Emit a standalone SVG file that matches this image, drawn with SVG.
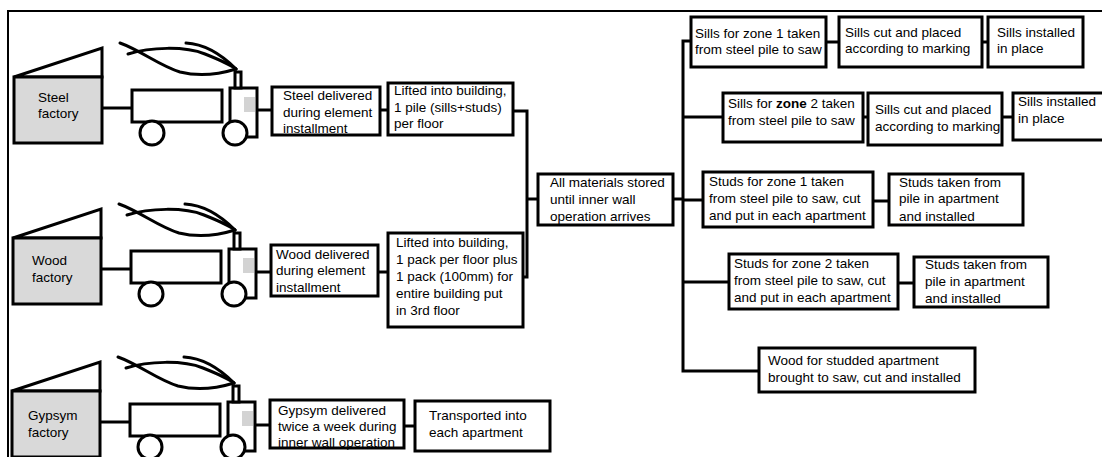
<svg xmlns="http://www.w3.org/2000/svg" xmlns:xlink="http://www.w3.org/1999/xlink" width="1102" height="457" viewBox="0 0 1102 457">
  <style>
    .box { fill: #ffffff; stroke: #000000; stroke-width: 3; }
    .wire { fill: none; stroke: #000000; stroke-width: 3; }
    .lbl { font-family: "Liberation Sans", Arial, sans-serif; font-size: 13.5px; fill: #000000; }
    .shade { fill: #d9d9d9; stroke: #000000; stroke-width: 3; }
    .smoke { fill: none; stroke: #000000; stroke-width: 3; stroke-linecap: round; }
  </style>
  <defs>
    <!-- factory building with a delivery truck, drawn at the top row position -->
    <g id="factoryTruck">
      <polygon points="14,77 102,48 102,77" class="box"/>
      <rect x="14" y="77" width="88" height="66" class="shade"/>
      <line x1="102" y1="108" x2="132" y2="108" class="wire"/>
      <rect x="132" y="90" width="90" height="32" class="box"/>
      <rect x="230" y="88" width="27" height="49" class="box"/>
      <rect x="235" y="72" width="6" height="16" class="box" stroke-width="2.5"/>
      <rect x="244" y="97" width="11" height="15" fill="#d3d3d3"/>
      <circle cx="152" cy="133" r="12" class="box"/>
      <circle cx="235" cy="133" r="12" class="box"/>
      <path class="smoke" d="M120,43 C140,50 160,66 180,72 C200,77 220,74 236,69"/>
      <path class="smoke" d="M128,54 C150,47 185,46 205,54 C220,60 230,64 236,69"/>
      <path class="smoke" d="M186,43 C205,44 222,55 236,69"/>
    </g>
  </defs>

  <!-- frame -->
  <rect x="8" y="11" width="1100" height="460" fill="none" stroke="#000000" stroke-width="2"/>

  <!-- connectors -->
  <g id="connectors">
    <path class="wire" d="M257,110 H272"/>
    <path class="wire" d="M380,110 H388"/>
    <path class="wire" d="M513,111 H527 V277 H523"/>
    <path class="wire" d="M527,199 H538"/>
    <path class="wire" d="M257,272 H271"/>
    <path class="wire" d="M378,272 H388"/>
    <path class="wire" d="M255,425 H270"/>
    <path class="wire" d="M404,426 H415"/>
    <path class="wire" d="M673,199 H683"/>
    <path class="wire" d="M691,41 H683 V371 H759"/>
    <path class="wire" d="M683,200 H703"/>
    <path class="wire" d="M683,117 H723"/>
    <path class="wire" d="M683,282 H729"/>
    <path class="wire" d="M826,42 H839"/>
    <path class="wire" d="M982,42 H988"/>
    <path class="wire" d="M863,117 H868"/>
    <path class="wire" d="M1002,117 H1013"/>
    <path class="wire" d="M873,201 H889"/>
    <path class="wire" d="M898,283 H914"/>
  </g>

  <!-- sources -->
  <g id="steel-factory">
    <use xlink:href="#factoryTruck"/>
    <text class="lbl" x="38" y="102">Steel</text>
    <text class="lbl" x="38" y="118">factory</text>
  </g>
  <g id="wood-factory">
    <use xlink:href="#factoryTruck" transform="translate(-1,161)"/>
    <text class="lbl" x="32" y="265">Wood</text>
    <text class="lbl" x="32" y="282">factory</text>
  </g>
  <g id="gypsym-factory">
    <use xlink:href="#factoryTruck" transform="translate(-2,314)"/>
    <text class="lbl" x="28" y="420">Gypsym</text>
    <text class="lbl" x="28" y="437">factory</text>
  </g>

  <!-- deliveries -->
  <g id="steel-delivered">
    <rect x="272" y="87" width="108" height="48" class="box"/>
    <text class="lbl" x="283" y="100">Steel delivered</text>
    <text class="lbl" x="283" y="117">during element</text>
    <text class="lbl" x="283" y="133">installment</text>
  </g>
  <g id="steel-lifted">
    <rect x="388" y="83" width="125" height="52" class="box"/>
    <text class="lbl" x="394" y="95">Lifted into building,</text>
    <text class="lbl" x="394" y="112">1 pile (sills+studs)</text>
    <text class="lbl" x="394" y="128">per floor</text>
  </g>
  <g id="wood-delivered">
    <rect x="271" y="245" width="107" height="51" class="box"/>
    <text class="lbl" x="276" y="259">Wood delivered</text>
    <text class="lbl" x="276" y="275">during element</text>
    <text class="lbl" x="276" y="292">installment</text>
  </g>
  <g id="wood-lifted">
    <rect x="388" y="233" width="135" height="94" class="box"/>
    <text class="lbl" x="396" y="247">Lifted into building,</text>
    <text class="lbl" x="396" y="264">1 pack per floor plus</text>
    <text class="lbl" x="396" y="281">1 pack (100mm) for</text>
    <text class="lbl" x="396" y="298">entire building put</text>
    <text class="lbl" x="396" y="315">in 3rd floor</text>
  </g>
  <g id="gypsym-delivered">
    <rect x="270" y="400" width="134" height="48" class="box"/>
    <text class="lbl" x="278" y="415">Gypsym delivered</text>
    <text class="lbl" x="278" y="431">twice a week during</text>
    <text class="lbl" x="278" y="447">inner wall operation</text>
  </g>
  <g id="gypsym-transported">
    <rect x="415" y="401" width="135" height="50" class="box"/>
    <text class="lbl" x="429" y="420">Transported into</text>
    <text class="lbl" x="429" y="437">each apartment</text>
  </g>

  <!-- storage -->
  <g id="storage">
    <rect x="538" y="174" width="135" height="51" class="box"/>
    <text class="lbl" x="550" y="187">All materials stored</text>
    <text class="lbl" x="550" y="204">until inner wall</text>
    <text class="lbl" x="550" y="221">operation arrives</text>
  </g>

  <!-- sills zone 1 -->
  <g id="sills-z1">
    <rect x="691" y="17" width="135" height="50" class="box"/>
    <text class="lbl" x="695" y="38">Sills for zone 1 taken</text>
    <text class="lbl" x="695" y="54">from steel pile to saw</text>
  </g>
  <g id="sills-z1-cut">
    <rect x="839" y="17" width="143" height="50" class="box"/>
    <text class="lbl" x="845" y="37">Sills cut and placed</text>
    <text class="lbl" x="845" y="53">according to marking</text>
  </g>
  <g id="sills-z1-installed">
    <rect x="988" y="17" width="95" height="50" class="box"/>
    <text class="lbl" x="997" y="37">Sills installed</text>
    <text class="lbl" x="997" y="53">in place</text>
  </g>

  <!-- sills zone 2 -->
  <g id="sills-z2">
    <rect x="723" y="93" width="140" height="49" class="box"/>
    <text class="lbl" x="728" y="108">Sills for <tspan font-weight="bold">zone</tspan> 2 taken</text>
    <text class="lbl" x="728" y="125">from steel pile to saw</text>
  </g>
  <g id="sills-z2-cut">
    <rect x="868" y="93" width="134" height="52" class="box"/>
    <text class="lbl" x="875" y="114">Sills cut and placed</text>
    <text class="lbl" x="875" y="131">according to marking</text>
  </g>
  <g id="sills-z2-installed">
    <rect x="1013" y="93" width="95" height="47" class="box"/>
    <text class="lbl" x="1018" y="106">Sills installed</text>
    <text class="lbl" x="1018" y="123">in place</text>
  </g>

  <!-- studs -->
  <g id="studs-z1">
    <rect x="703" y="172" width="170" height="55" class="box"/>
    <text class="lbl" x="709" y="186">Studs for zone 1 taken</text>
    <text class="lbl" x="709" y="203">from steel pile to saw, cut</text>
    <text class="lbl" x="709" y="220">and put in each apartment</text>
  </g>
  <g id="studs-z1-installed">
    <rect x="889" y="174" width="134" height="51" class="box"/>
    <text class="lbl" x="899" y="187">Studs taken from</text>
    <text class="lbl" x="899" y="203">pile in apartment</text>
    <text class="lbl" x="899" y="221">and installed</text>
  </g>
  <g id="studs-z2">
    <rect x="729" y="254" width="169" height="55" class="box"/>
    <text class="lbl" x="734" y="268">Studs for zone 2 taken</text>
    <text class="lbl" x="734" y="285">from steel pile to saw, cut</text>
    <text class="lbl" x="734" y="302">and put in each apartment</text>
  </g>
  <g id="studs-z2-installed">
    <rect x="914" y="257" width="134" height="50" class="box"/>
    <text class="lbl" x="925" y="269">Studs taken from</text>
    <text class="lbl" x="925" y="286">pile in apartment</text>
    <text class="lbl" x="925" y="303">and installed</text>
  </g>
  <g id="wood-studded">
    <rect x="759" y="348" width="216" height="44" class="box"/>
    <text class="lbl" x="768" y="365">Wood for studded apartment</text>
    <text class="lbl" x="768" y="382">brought to saw, cut and installed</text>
  </g>
</svg>
